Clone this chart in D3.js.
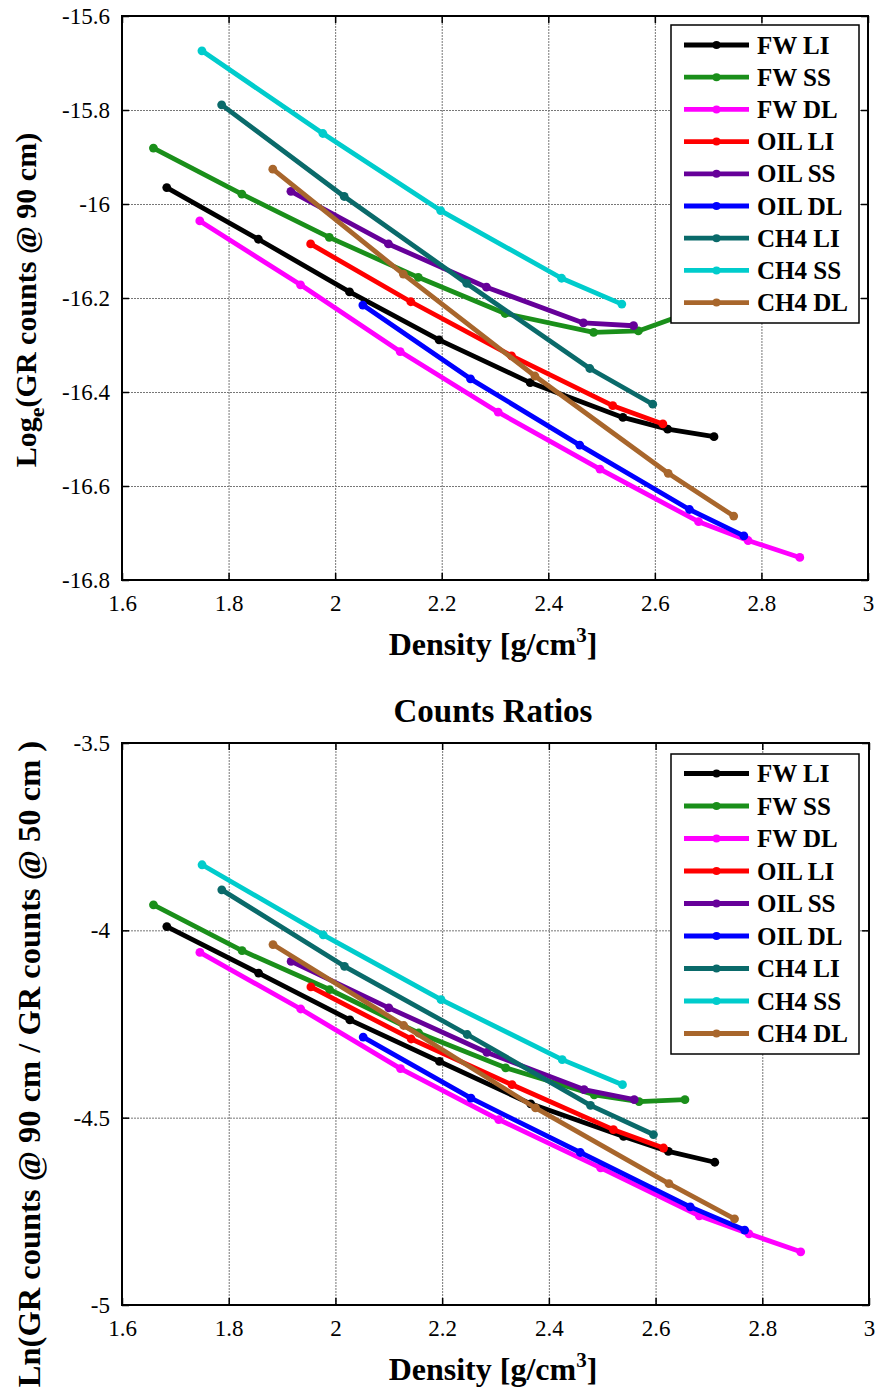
<!DOCTYPE html>
<html><head><meta charset="utf-8">
<script src="https://cdn.jsdelivr.net/npm/d3@7"></script>
<style>
body{margin:0;background:#fff;}
svg{display:block;font-family:"Liberation Serif","Times New Roman",serif;}
</style></head>
<body><svg id="c" width="879" height="1389"></svg>
<script>
// ---------- data ----------
const seriesNames = ["FW LI","FW SS","FW DL","OIL LI","OIL SS","OIL DL","CH4 LI","CH4 SS","CH4 DL"];
const seriesColors = ["#000000","#1a8f1a","#ff00ff","#ff0000","#660099","#0000ff","#0a6a6a","#00cccc","#a8662c"];

const fwLiX    = [1.684,1.856,2.027,2.195,2.366,2.540,2.624,2.711];
const fwLiTop  = [-15.965,-16.075,-16.187,-16.289,-16.380,-16.454,-16.479,-16.495];
const fwLiRat  = [-3.990,-4.114,-4.239,-4.350,-4.463,-4.550,-4.590,-4.619];

const fwSsX    = [1.659,1.825,1.989,2.156,2.319,2.485,2.569,2.655];
const fwSsTop  = [-15.881,-15.979,-16.071,-16.156,-16.233,-16.273,-16.270,-16.235];
const fwSsRat  = [-3.932,-4.054,-4.158,-4.274,-4.367,-4.439,-4.457,-4.452];

const fwDlX    = [1.746,1.935,2.122,2.306,2.497,2.682,2.775,2.872];
const fwDlTop  = [-16.036,-16.172,-16.314,-16.443,-16.564,-16.676,-16.716,-16.752];
const fwDlRat  = [-4.059,-4.210,-4.369,-4.505,-4.634,-4.762,-4.810,-4.858];

const oilLiX   = [1.954,2.142,2.331,2.521,2.615];
const oilLiTop = [-16.085,-16.208,-16.323,-16.429,-16.468];
const oilLiRat = [-4.151,-4.290,-4.412,-4.532,-4.581];

const oilSsX   = [1.917,2.100,2.284,2.466,2.560];
const oilSsTop = [-15.973,-16.085,-16.177,-16.253,-16.259];
const oilSsRat = [-4.083,-4.207,-4.326,-4.425,-4.452];

const oilDlX   = [2.052,2.254,2.459,2.665,2.767];
const oilDlTop = [-16.215,-16.372,-16.513,-16.650,-16.706];
const oilDlRat = [-4.285,-4.448,-4.593,-4.738,-4.800];

const ch4LiX   = [1.787,2.017,2.247,2.478,2.596];
const ch4LiTop = [-15.789,-15.984,-16.169,-16.350,-16.426];
const ch4LiRat = [-3.892,-4.096,-4.278,-4.467,-4.545];

const ch4SsX   = [1.750,1.977,2.198,2.425,2.538];
const ch4SsTop = [-15.674,-15.850,-16.014,-16.158,-16.213];
const ch4SsRat = [-3.825,-4.012,-4.185,-4.345,-4.412];

const ch4DlX   = [1.883,2.128,2.375,2.625,2.748];
const ch4DlTop = [-15.926,-16.149,-16.366,-16.573,-16.664];
const ch4DlRat = [-4.038,-4.254,-4.474,-4.676,-4.770];

const xTicks = [1.6,1.8,2.0,2.2,2.4,2.6,2.8,3.0];
const yTicksTop = [-15.6,-15.8,-16.0,-16.2,-16.4,-16.6,-16.8];
const yTicksRat = [-3.5,-4.0,-4.5,-5.0];

const densities = [fwLiX,fwSsX,fwDlX,oilLiX,oilSsX,oilDlX,ch4LiX,ch4SsX,ch4DlX];
const topValues = [fwLiTop,fwSsTop,fwDlTop,oilLiTop,oilSsTop,oilDlTop,ch4LiTop,ch4SsTop,ch4DlTop];
const ratValues = [fwLiRat,fwSsRat,fwDlRat,oilLiRat,oilSsRat,oilDlRat,ch4LiRat,ch4SsRat,ch4DlRat];

// ---------- drawing ----------
const svg = d3.select("#c");
const fmt = d => String(Math.round(d*10)/10);

function panel(o){
  const g = svg.append("g").attr("transform",`translate(${o.left},${o.top})`);
  const W = o.width, H = o.height;
  const x = d3.scaleLinear().domain([1.6,3.0]).range([0,W]);
  const y = d3.scaleLinear().domain(o.yDomain).range([0,H]);

  // grid
  g.append("g").attr("transform",`translate(0,${H})`)
    .call(d3.axisBottom(x).tickValues(xTicks).tickSize(-H).tickFormat(""))
    .call(a=>a.select(".domain").remove())
    .selectAll("line").attr("stroke","#777").attr("stroke-width",1).attr("stroke-dasharray","2,1");
  g.append("g")
    .call(d3.axisLeft(y).tickValues(o.yTicks).tickSize(-W).tickFormat(""))
    .call(a=>a.select(".domain").remove())
    .selectAll("line").attr("stroke","#777").attr("stroke-width",1).attr("stroke-dasharray","2,1");

  // lines
  const line = d3.line().x(d=>x(d[0])).y(d=>y(d[1]));
  seriesNames.forEach((nm,i)=>{
    const pts = densities[i].map((d,j)=>[d,o.values[i][j]]);
    const s = g.append("g");
    s.append("path").datum(pts).attr("d",line).attr("fill","none")
      .attr("stroke",seriesColors[i]).attr("stroke-width",4.8).attr("stroke-linejoin","round");
    s.selectAll("circle").data(pts).join("circle")
      .attr("cx",d=>x(d[0])).attr("cy",d=>y(d[1])).attr("r",4.4).attr("fill",seriesColors[i]);
  });

  // axes with inward ticks
  const ax = (sel)=>{sel.selectAll("text").attr("font-size",23).attr("fill","#000").attr("font-family","Liberation Serif");
    sel.selectAll("line").attr("stroke","#000").attr("stroke-width",1.5); sel.select(".domain").remove();};
  g.append("g").attr("transform",`translate(0,${H})`)
    .call(d3.axisBottom(x).tickValues(xTicks).tickSize(-7).tickPadding(18).tickFormat(fmt)).call(ax);
  g.append("g")
    .call(d3.axisTop(x).tickValues(xTicks).tickSize(-7).tickFormat("")).call(ax);
  g.append("g")
    .call(d3.axisLeft(y).tickValues(o.yTicks).tickSize(-7).tickPadding(12).tickFormat(fmt)).call(ax);
  g.append("g").attr("transform",`translate(${W},0)`)
    .call(d3.axisRight(y).tickValues(o.yTicks).tickSize(-7).tickFormat("")).call(ax);
  g.selectAll(".tick text").filter(function(){return this.parentNode.parentNode.getAttribute("transform")===`translate(0,${H})`;})
    .attr("dy","0.55em");

  g.append("rect").attr("width",W).attr("height",H).attr("fill","none").attr("stroke","#000").attr("stroke-width",2);

  // legend
  const L = o.legend;
  const lg = g.append("g").attr("transform",`translate(${L.x - o.left},${L.y - o.top})`);
  lg.append("rect").attr("width",L.w).attr("height",L.h).attr("fill","#fff").attr("stroke","#000").attr("stroke-width",1.5);
  seriesNames.forEach((nm,i)=>{
    const yy = L.first + i*L.step;
    lg.append("line").attr("x1",13).attr("x2",78).attr("y1",yy).attr("y2",yy)
      .attr("stroke",seriesColors[i]).attr("stroke-width",4.8);
    lg.append("circle").attr("cx",45.5).attr("cy",yy).attr("r",4).attr("fill",seriesColors[i]);
    lg.append("text").attr("x",86).attr("y",yy+8.5).attr("font-size",25).attr("font-weight","bold").text(nm);
  });
  return g;
}

panel({left:122, top:16, width:746, height:564, yDomain:[-15.6,-16.8], yTicks:yTicksTop, values:topValues,
  legend:{x:671,y:25,w:188,h:298,first:20,step:32.2}});
panel({left:122, top:743, width:747, height:562, yDomain:[-3.5,-5.0], yTicks:yTicksRat, values:ratValues,
  legend:{x:671,y:754,w:188,h:300,first:19.5,step:32.5}});

// x labels
function xlabel(yb){
  const t = svg.append("text").attr("x",493).attr("y",yb).attr("text-anchor","middle")
    .attr("font-size",32).attr("font-weight","bold");
  t.append("tspan").text("Density [g/cm");
  t.append("tspan").attr("font-size",21).attr("dy",-13).text("3");
  t.append("tspan").attr("dy",13).text("]");
}
xlabel(655);
xlabel(1380);

svg.append("text").attr("x",493).attr("y",722).attr("text-anchor","middle")
  .attr("font-size",33).attr("font-weight","bold").text("Counts Ratios");

// y labels
const yl1 = svg.append("text").attr("transform","translate(36,300) rotate(-90)").attr("text-anchor","middle")
  .attr("font-size",30).attr("font-weight","bold");
yl1.append("tspan").text("Log");
yl1.append("tspan").attr("font-size",22).attr("dy",8).text("e");
yl1.append("tspan").attr("dy",-8).text("(GR counts @ 90 cm)");

svg.append("text").attr("transform","translate(40,1064) rotate(-90)").attr("text-anchor","middle")
  .attr("font-size",32.5).attr("font-weight","bold").text("Ln(GR counts @ 90 cm / GR counts @ 50 cm )");
</script></body></html>
